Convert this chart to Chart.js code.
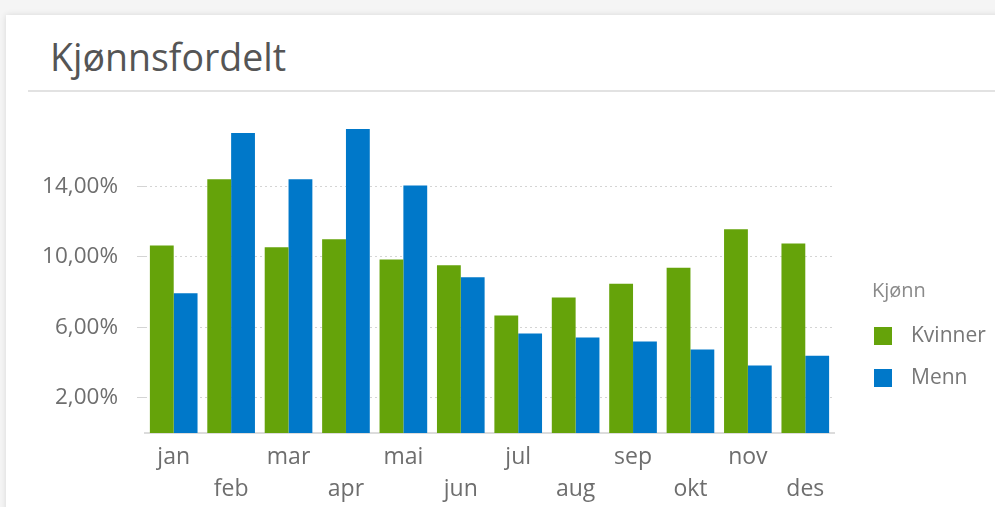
<!DOCTYPE html>
<html>
<head>
<meta charset="utf-8">
<script src="https://cdn.jsdelivr.net/npm/chart.js@4/dist/chart.umd.min.js"></script>
<style>
  html, body { margin: 0; padding: 0; }
  body { width: 995px; height: 507px; overflow: hidden; background: #f5f5f5; position: relative; font-family: 'Open Sans', sans-serif; }
  .card { position: absolute; left: 6px; top: 15px; width: 1000px; height: 500px; background: #fff; box-shadow: 0 0 6px rgba(0,0,0,0.12); }
  .title { position: absolute; left: 50px; top: 39px; font-size: 37.5px; line-height: 36px; color: #555; }
  .rule { position: absolute; left: 28px; top: 90px; width: 980px; height: 2px; background: #e2e2e2; }
  #myChart { position: absolute; left: 0; top: 100px; }
</style>
</head>
<body>
<div class="card"></div>
<div class="title">Kjønnsfordelt</div>
<div class="rule"></div>
<canvas id="myChart" width="995" height="407"></canvas>
<script>
var months = ['jan', 'feb', 'mar', 'apr', 'mai', 'jun', 'jul', 'aug', 'sep', 'okt', 'nov', 'des'];
var kvinner = [10.64, 14.41, 10.55, 11.0, 9.85, 9.53, 6.67, 7.69, 8.48, 9.39, 11.57, 10.76];
var menn = [7.94, 17.03, 14.41, 17.26, 14.05, 8.84, 5.65, 5.42, 5.19, 4.74, 3.83, 4.39];
var yTicks = [2, 6, 10, 14];
var legendTitle = 'Kjønn';

Chart.defaults.font.family = "'Open Sans', sans-serif";
Chart.defaults.color = '#6e6e6e';

// legend drawn at the right of the plot: title + square swatches
var sideLegend = {
  id: 'sideLegend',
  afterDraw: function(chart) {
    var ctx = chart.ctx;
    var x = chart.chartArea.right + 40;
    ctx.save();
    ctx.textBaseline = 'middle';
    ctx.font = '20px "Open Sans"';
    ctx.fillStyle = '#8a8a8a';
    ctx.fillText(legendTitle, x - 2, 191);
    chart.data.datasets.forEach(function(ds, i) {
      var cy = 236 + i * 42;
      ctx.fillStyle = ds.backgroundColor;
      ctx.fillRect(x, cy - 9, 18, 18);
      ctx.fillStyle = '#777';
      ctx.font = '21px "Open Sans"';
      ctx.fillText(ds.label, x + 37, cy);
    });
    ctx.restore();
  }
};

var ctx = document.getElementById('myChart').getContext('2d');
var myChart = new Chart(ctx, {
  type: 'bar',
  data: {
    labels: months,
    datasets: [{
      label: 'Kvinner',
      data: kvinner,
      backgroundColor: '#65a30a'
    }, {
      label: 'Menn',
      data: menn,
      backgroundColor: '#0078c9'
    }]
  },
  options: {
    responsive: false,
    animation: false,
    devicePixelRatio: 1,
    categoryPercentage: 0.83,
    barPercentage: 1,
    layout: {
      padding: { left: 0, right: 161, top: 16, bottom: 0 }
    },
    plugins: {
      legend: { display: false },
      tooltip: { enabled: false }
    },
    scales: {
      x: {
        grid: { display: false, drawTicks: false },
        border: { display: true, color: '#dcdcdc', width: 2 },
        afterFit: function(scale) {
          scale.height = 74;
        },
        ticks: {
          padding: 8,
          maxRotation: 0,
          autoSkip: false,
          font: { size: 23, lineHeight: 32 / 23 },
          callback: function(v, i) {
            var l = this.getLabelForValue(v);
            return i % 2 ? ['', l] : l;
          }
        }
      },
      y: {
        min: 0,
        max: 18,
        afterBuildTicks: function(scale) {
          scale.ticks = yTicks.map(function(v) { return { value: v }; });
        },
        afterFit: function(scale) {
          scale.width = 145;
          scale.paddingTop = 0;
          scale.paddingBottom = 0;
        },
        grid: { color: '#d4d4d4', tickLength: 8, lineWidth: 1 },
        border: { display: false, dash: [2, 3] },
        ticks: {
          padding: 19,
          font: { size: 22.5 },
          callback: function(v) {
            return v.toFixed(2).replace('.', ',') + '%';
          }
        }
      }
    }
  },
  plugins: [sideLegend]
});
</script>
</body>
</html>
